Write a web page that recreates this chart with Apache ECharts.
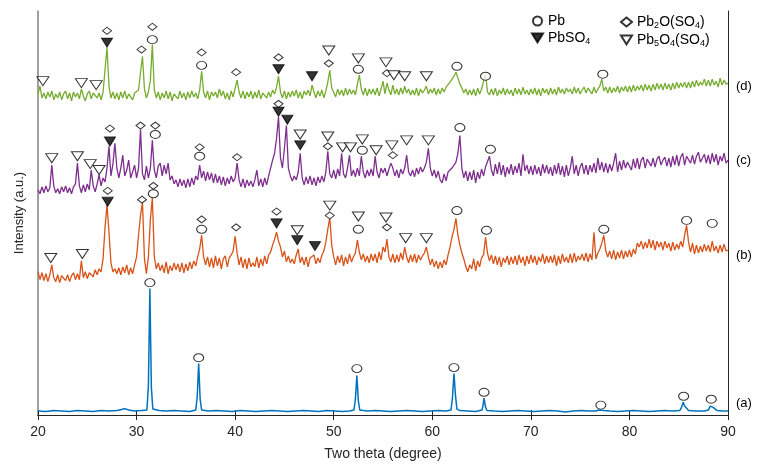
<!DOCTYPE html>
<html>
<head>
<meta charset="utf-8">
<script src="https://cdn.jsdelivr.net/npm/echarts@6/dist/echarts.min.js"></script>
<style>
  html, body { margin: 0; padding: 0; background: #fff; }
  #chart { width: 759px; height: 466px; }
</style>
</head>
<body>
<div id="chart"></div>
<script>
// 2-theta grid of the noisy scans (b)-(d) starts at 20 with 0.2 deg steps
const startAngle = 20
const stepAngle = 0.2

// vertical offsets used to stack the scans
const traceOffsets = { a: 0, b: 130, c: 220, d: 315 }

// (a) pure lead, read as [2theta, intensity]
const traceA = [
  [20,4],[20.8,3.5],[21.6,4.5],[22.4,4],[23.2,3.5],[24,4.5],[24.8,4],[25.6,3.5],[26.4,4.5],[27.2,4],[28,4.5],[28.5,5.5],[28.8,6.5],[29.2,5],[29.8,4],[30.5,4.5],
  [31.05,5],[31.2,30],[31.35,128],[31.5,28],[31.65,6],[32.3,4.5],[33,4],[33.8,4.5],[34.6,4],[35.4,3.5],[36.0,5],[36.15,18],[36.3,52],[36.45,16],[36.6,5],
  [37.3,4],[38.1,4.5],[38.9,4],[39.7,3.5],[40.5,4.5],[41.3,4],[42.1,3.5],[42.9,4],[43.7,4.5],[44.5,4],[45.3,3.5],[46.1,4],[46.9,4.5],[47.7,4],[48.5,3.5],
  [49.3,4.5],[50.1,4],[50.9,3.5],[51.6,4],[52.05,5],[52.2,16],[52.35,40],[52.5,14],[52.65,5],[53.4,4],[54.2,4.5],[55,4],[55.8,3.5],[56.6,4],[57.4,4.5],
  [58.2,4],[59,3.5],[59.8,4],[60.6,4.5],[61.4,4],[61.9,5],[62.05,18],[62.2,42],[62.35,20],[62.5,6],[62.8,4.5],[63.6,4],[64.4,3.5],[65.05,5],[65.15,10],
  [65.25,17],[65.4,8],[65.55,4.5],[66.3,4],[67.1,3.5],[67.9,4],[68.7,4.5],[69.5,4],[70.3,3.5],[71.1,4],[71.9,4.5],[72.7,4],[73.5,3],[74.3,4],[75.1,4.5],
  [75.9,4],[76.6,4],[76.9,5],[77.1,5.5],[77.4,4.5],[78,4],[78.8,3.5],[79.6,4],[80.4,4.5],[81.2,4],[82,3.5],[82.8,4],[83.6,4.5],[84.4,4],[85.1,4.5],
  [85.3,8],[85.45,13],[85.6,9],[85.75,7],[86,4.5],[86.8,4],[87.6,4],[88.0,5],[88.2,9],[88.3,11],[88.45,8],[88.6,6],[88.9,4.5],[89.5,4],[90,4]
]

// (b) one row per 2 degrees
const traceB = [
  15,7,14,6,13,5,12,22,9,5,
  12,4,11,13,6,12,5,11,14,7,
  13,7,26,9,15,8,14,16,10,17,
  12,18,15,28,60,83,55,24,15,18,
  13,19,12,20,14,22,12,19,13,22,
  30,52,72,85,28,13,30,68,90,30,
  18,24,16,22,14,25,13,21,16,24,
  17,23,15,24,14,23,16,25,18,26,
  21,30,38,52,30,22,30,20,29,19,
  31,21,29,18,28,31,20,29,32,36,
  51,34,22,30,19,28,18,29,20,24,
  20,30,19,28,21,31,23,32,35,42,
  48,55,46,40,30,36,25,31,24,28,
  23,32,38,24,30,22,30,20,29,31,
  32,23,29,24,32,36,45,58,70,42,
  30,22,31,24,32,21,30,23,33,25,
  30,34,47,35,27,33,25,31,24,33,
  26,33,24,35,27,40,35,48,30,25,
  33,24,32,25,34,27,40,30,24,32,
  25,33,24,32,27,31,34,40,30,22,
  28,20,26,18,25,19,27,22,32,40,
  50,58,69,52,42,34,28,20,15,22,
  18,28,16,26,20,29,32,50,34,26,
  32,23,31,22,30,20,29,24,31,22,
  30,23,31,22,32,24,30,21,31,23,
  32,24,31,22,30,25,33,23,31,24,
  31,24,32,21,31,23,33,25,30,24,
  33,24,34,25,31,27,33,26,34,25,
  33,27,55,28,34,38,44,52,36,30,
  36,28,37,27,35,29,37,28,36,30,
  37,30,38,33,44,40,46,38,45,39,
  48,39,47,37,46,40,45,37,46,39,
  44,36,45,37,43,38,46,40,52,62,
  45,35,44,33,42,34,41,35,43,36,
  42,35,46,36,41,34,42,35,43,36,
  37
]

// (c)
const traceC = [
  8,4,11,5,12,6,10,33,12,5,
  9,4,11,6,12,5,10,4,11,14,
  35,12,5,13,6,14,8,28,12,6,
  14,23,12,20,16,30,52,22,34,55,
  30,20,30,43,22,28,38,20,26,33,
  20,30,69,24,18,32,20,30,58,28,
  20,32,35,22,33,24,35,18,22,14,
  18,11,19,12,18,10,19,11,20,13,
  22,18,33,20,27,17,26,18,25,15,
  24,15,22,13,21,12,20,14,22,16,
  20,35,18,11,19,10,18,12,17,11,
  18,28,12,19,11,20,13,22,24,38,
  45,60,82,40,30,50,73,30,22,17,
  22,18,26,45,20,13,21,14,22,13,
  20,12,21,15,22,16,26,47,24,20,
  28,19,29,22,45,24,20,30,43,22,
  28,21,30,22,42,26,20,28,22,29,
  22,42,26,20,30,25,30,22,29,35,
  30,22,28,20,29,24,30,43,26,22,
  28,21,30,24,31,26,30,36,50,30,
  22,28,20,27,18,15,24,17,26,28,
  30,33,36,45,63,30,20,27,17,26,
  18,28,15,26,19,29,22,31,33,42,
  28,22,34,24,36,23,33,21,31,24,
  34,23,32,25,35,22,44,27,33,24,
  32,23,33,24,31,22,34,25,33,24,
  31,22,33,24,35,23,32,21,33,22,
  30,42,24,33,22,31,35,24,33,23,
  33,26,35,25,40,28,36,26,35,25,
  34,27,35,45,26,37,28,38,30,36,
  37,28,39,30,40,29,38,41,30,39,
  38,32,40,31,39,42,33,38,41,32,
  40,31,42,33,43,32,41,45,33,42,
  41,35,43,34,42,46,36,40,44,35,
  43,34,45,36,44,33,42,37,45,35,
  38
]

// (d)
const traceD = [
  10,18,6,11,5,12,7,13,4,10,
  6,12,4,10,13,5,11,3,12,7,
  11,5,15,8,3,10,13,5,11,12,
  6,11,4,12,14,57,18,6,12,5,
  11,4,12,6,13,5,10,12,4,11,
  10,14,32,48,15,6,12,24,60,14,
  6,12,4,11,6,13,5,12,3,10,
  12,5,13,6,11,4,12,6,13,7,
  11,5,14,33,12,6,13,4,12,8,
  12,6,15,8,13,5,11,4,13,7,
  16,24,12,6,13,5,12,7,13,5,
  12,6,14,5,11,13,6,12,7,14,
  10,17,28,12,6,13,5,12,7,13,
  8,14,6,12,5,13,9,14,8,19,
  12,6,13,8,14,6,13,22,34,16,
  14,7,15,9,14,8,16,9,15,10,
  14,9,20,29,15,9,16,8,15,10,
  15,9,16,8,15,23,10,21,14,9,
  19,10,15,9,16,10,18,11,15,9,
  14,9,16,8,15,11,14,18,10,15,
  11,16,9,15,10,16,12,17,19,22,
  25,28,32,26,20,16,11,15,9,14,
  9,15,8,16,10,15,16,31,12,9,
  15,9,16,8,14,10,16,9,15,10,
  14,8,16,10,15,9,17,10,14,9,
  15,10,16,9,15,8,16,11,15,9,
  16,10,15,9,17,11,15,10,16,12,
  15,10,17,11,16,10,14,17,11,16,
  16,10,17,11,15,18,25,13,17,11,
  17,11,16,12,18,11,17,13,18,12,
  18,12,19,13,18,14,19,13,20,14,
  19,13,20,14,21,15,20,14,21,15,
  20,14,21,15,22,16,21,17,22,16,
  22,16,23,17,24,18,22,19,25,18,
  24,18,25,19,23,17,26,19,24,20,
  21
]

// phase markers, [2theta, stacked intensity]
const markPb = [
  [31.35,134],[36.3,58],[52.35,47],[62.2,48],[65.25,23],[77.1,10],[85.5,19],[88.3,16],
  [31.7,224],[36.6,188],[52.5,188],[62.5,207],[65.5,187],[77.4,188],[85.8,197],[88.4,194],
  [31.9,284],[36.4,262],[52.9,268],[62.8,291],[65.9,269],
  [31.6,380],[36.6,354],[52.5,350],[62.5,353],[65.4,343],[77.3,345]
]
const markPbSO4 = [
  [27.07,216],[44.2,194],[46.3,177],[48.1,171],
  [27.3,277],[44.4,307],[45.3,299],[46.6,273],
  [27.0,377],[44.4,350],[47.8,343]
]
const markPb2OSO4 = [
  [27.07,227],[30.55,218],[31.7,232],[36.6,198],[40.1,190],[44.2,206],[49.6,202],[55.4,190],
  [27.3,290],[30.4,293],[31.9,293],[36.4,271],[40.2,261],[44.4,315],[49.4,272],[56.0,263],
  [27.0,389],[30.5,370],[31.6,393],[36.6,367],[40.1,347],[44.4,362],[49.5,356],[55.4,346]
]
const markPb5O4SO4 = [
  [21.3,159],[24.5,163],[46.3,187],[49.6,212],[52.5,201],[55.3,200],[57.3,179],[59.4,179],
  [21.4,260],[24.0,262],[25.3,254],[26.2,248],[46.6,284],[49.4,282],[50.9,271],[51.7,271],
  [52.9,279],[54.3,268],[55.9,273],[57.4,278],[59.6,278],
  [20.5,338],[24.4,336],[25.9,334],[49.5,369],[52.5,361],[55.3,357],[56.1,344],[57.2,343],[59.4,343]
]

const xTicks = [20, 30, 40, 50, 60, 70, 80, 90]

const font = 'Liberation Sans'
const downTri = 'path://M0,0L10,0L5,8Z'

function stacked(values, offset) {
  return values.map((v, i) => [+(startAngle + i * stepAngle).toFixed(1), v + offset])
}

function scan(name, data, color, label, labelOffset, width) {
  return {
    name: name,
    type: 'line',
    data: data,
    showSymbol: false,
    symbol: 'none',
    lineStyle: { color: color, width: width },
    itemStyle: { color: color },
    endLabel: {
      show: true,
      formatter: label,
      distance: 8,
      offset: labelOffset,
      color: '#000',
      fontSize: 13,
      fontFamily: font
    },
    z: 2
  }
}

function marks(name, data, symbol, size, fill) {
  return {
    name: name,
    type: 'scatter',
    data: data,
    symbol: symbol,
    symbolSize: size,
    itemStyle: { color: fill, borderColor: '#000', borderWidth: 1 },
    z: 5
  }
}

const legendNames = {
  'Pb': '{n|Pb}',
  'PbSO4': '{n|PbSO}{s|4}',
  'Pb2O(SO4)': '{n|Pb}{s|2}{n|O(SO}{s|4}{n|)}',
  'Pb5O4(SO4)': '{n|Pb}{s|5}{n|O}{s|4}{n|(SO}{s|4}{n|)}'
}
const legendText = {
  rich: {
    n: { fontSize: 14, color: '#000', fontFamily: font, lineHeight: 16 },
    s: { fontSize: 9, color: '#000', fontFamily: font, verticalAlign: 'bottom', lineHeight: 16, padding: [7, 0, 0, 0] }
  }
}

function legendCol(left, names) {
  return {
    orient: 'vertical',
    left: left,
    top: 9,
    itemGap: 2,
    itemWidth: 11,
    itemHeight: 9,
    data: names,
    formatter: (n) => legendNames[n],
    textStyle: legendText
  }
}

const chart = echarts.init(document.getElementById('chart'), null, { renderer: 'canvas' })
chart.setOption({
  animation: false,
  backgroundColor: '#fff',
  grid: { left: 38, right: 31, top: 11, bottom: 46 },
  legend: [
    legendCol(526, ['Pb', 'PbSO4']),
    legendCol(615, ['Pb2O(SO4)', 'Pb5O4(SO4)'])
  ],
  xAxis: [
    {
      type: 'value', min: 20, max: 90, interval: 10,
      name: 'Two theta (degree)', nameLocation: 'middle', nameGap: 32,
      nameTextStyle: { fontSize: 14, color: '#262626', fontFamily: font },
      axisLine: { lineStyle: { color: '#262626', width: 1 } },
      axisTick: { inside: true, length: 5, lineStyle: { color: '#262626' } },
      axisLabel: { fontSize: 14, color: '#262626', fontFamily: font, margin: 10,
        formatter: (v) => xTicks.includes(v) ? String(v) : '' },
      splitLine: { show: false }
    },
    {
      type: 'value', position: 'top', min: 20, max: 90, interval: 10,
      axisLine: { lineStyle: { color: '#262626', width: 1 } },
      axisTick: { inside: true, length: 5, lineStyle: { color: '#262626' } },
      axisLabel: { show: false },
      splitLine: { show: false }
    }
  ],
  yAxis: [
    {
      type: 'value', min: 0, max: 409,
      name: 'Intensity (a.u.)', nameLocation: 'middle', nameGap: 12,
      nameTextStyle: { fontSize: 13, color: '#262626', fontFamily: font },
      axisLine: { show: true, lineStyle: { color: '#808080', width: 1.5 } },
      axisTick: { show: false },
      axisLabel: { show: false },
      splitLine: { show: false }
    },
    {
      type: 'value', position: 'right', min: 0, max: 409,
      axisLine: { show: true, lineStyle: { color: '#262626', width: 1 } },
      axisTick: { show: false },
      axisLabel: { show: false },
      splitLine: { show: false }
    }
  ],
  series: [
    scan('a', traceA, '#0072BD', '(a)', [0, -8], 1.5),
    scan('b', stacked(traceB, traceOffsets.b), '#D95319', '(b)', [0, 5], 1.3),
    scan('c', stacked(traceC, traceOffsets.c), '#7E2F8E', '(c)', [0, 0], 1.3),
    scan('d', stacked(traceD, traceOffsets.d), '#77AC30', '(d)', [0, 3], 1.3),
    marks('Pb', markPb, 'circle', [10, 8], '#fff'),
    marks('PbSO4', markPbSO4, downTri, [11, 9], '#000'),
    marks('Pb2O(SO4)', markPb2OSO4, 'diamond', [9, 7], '#fff'),
    marks('Pb5O4(SO4)', markPb5O4SO4, downTri, [12, 9], '#fff')
  ]
})
</script>
</body>
</html>
